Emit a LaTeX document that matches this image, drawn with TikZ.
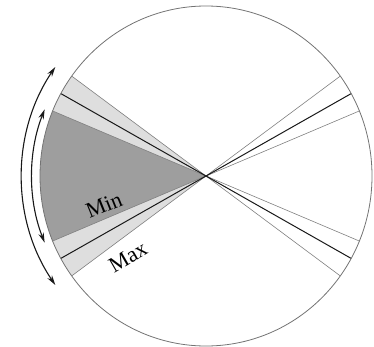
\documentclass[tikz,border=0pt]{standalone}
\usepackage{fontspec}
\setmainfont{Liberation Serif}
\usepackage{tikz}
\usetikzlibrary{arrows.meta,calc}

\begin{document}
\begin{tikzpicture}[
  x=1pt, y=1pt,
  >=Stealth,
  rim/.style={draw=black!55, line width=0.8pt},
  cutline/.style={draw=black!50, line width=0.6pt},
  limline/.style={draw=black!90, line width=1pt},
  minfill/.style={fill=black!38},
  maxfill/.style={fill=black!13},
  spanarrow/.style={<->, black!90, line width=1.1pt, >={Stealth[length=10pt,width=5.5pt]}},
  lbl/.style={font=\fontsize{22}{24}\selectfont, inner sep=0pt}
]
\useasboundingbox (0,0) rectangle (374,346);

\coordinate (O) at (206,170);

\begin{scope}[shift={(O)}]
  % ==================== WEDGES ====================
  \fill[maxfill] (0,0) -- (144:166 and 170) arc[start angle=144, end angle=157.5, x radius=166, y radius=170] -- cycle;
  \fill[maxfill] (0,0) -- (202.5:166 and 170) arc[start angle=202.5, end angle=216, x radius=166, y radius=170] -- cycle;
  \fill[minfill] (0,0) -- (157.5:166 and 170) arc[start angle=157.5, end angle=202.5, x radius=166, y radius=170] -- cycle;

  % ==================== LINES ====================
  \foreach \a in {144,157.5,202.5,216}
    \draw[cutline] (\a:166 and 170) -- (\a+180:166 and 170);
  \foreach \a in {151,209}
    \draw[limline] (\a:166 and 170) -- (\a+180:166 and 170);

  % circle
  \draw[rim] (0,0) ellipse[x radius=166, y radius=170];

  % ==================== ARROWS ====================
  \draw[spanarrow] (145:184 and 190) arc[start angle=145, end angle=215, x radius=184, y radius=190];
  \draw[spanarrow] (158:174 and 178) arc[start angle=158, end angle=202, x radius=174, y radius=178];
\end{scope}

% labels
\node[lbl, rotate=22] (min) at (104,141) {Min};
\node[lbl, rotate=30] (max) at (128,89) {Max};

\end{tikzpicture}
\end{document}
